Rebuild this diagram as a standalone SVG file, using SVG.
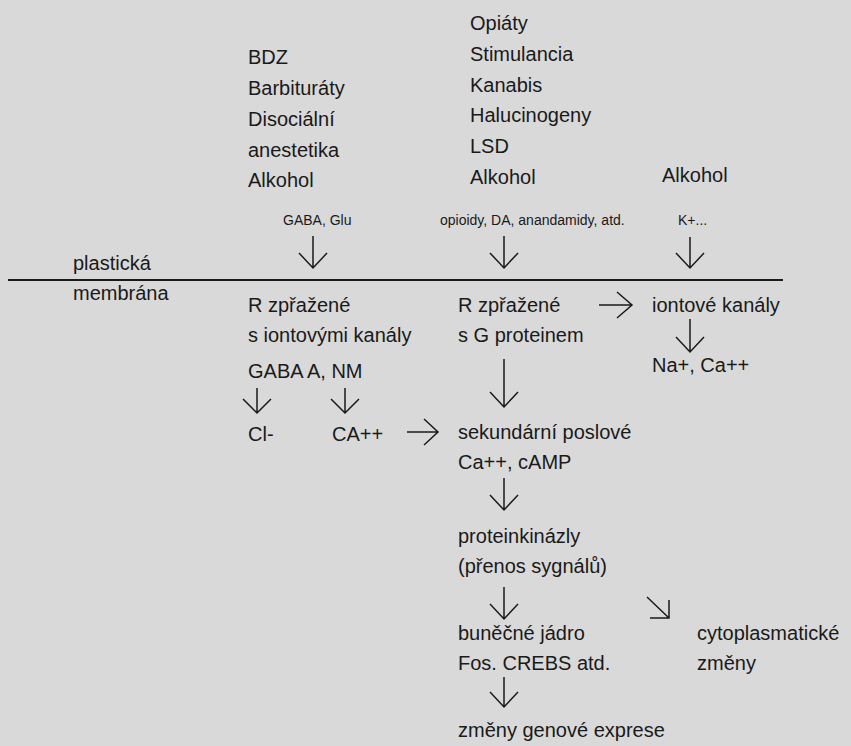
<svg xmlns="http://www.w3.org/2000/svg" width="851" height="746" viewBox="0 0 851 746">
<style>
text{font-family:"Liberation Sans",Arial,sans-serif;fill:#1a1a1a;font-size:20px}
text.s{font-size:14px}
.a{fill:none;stroke:#1a1a1a;stroke-width:1.5}
</style>
<rect width="851" height="746" fill="#d9d9d9"/>
<g id="membrane">
<line x1="8" y1="280" x2="783" y2="280" stroke="#1a1a1a" stroke-width="2"/>
<text x="73" y="270">plastická</text>
<text x="73" y="300">membrána</text>
</g>
<g id="drugs-left">
<text x="248" y="64">BDZ</text>
<text x="248" y="95">Barbituráty</text>
<text x="248" y="126">Disociální</text>
<text x="248" y="157">anestetika</text>
<text x="248" y="187">Alkohol</text>
</g>
<g id="drugs-mid">
<text x="470" y="30">Opiáty</text>
<text x="470" y="61">Stimulancia</text>
<text x="470" y="92">Kanabis</text>
<text x="470" y="122">Halucinogeny</text>
<text x="470" y="153">LSD</text>
<text x="470" y="184">Alkohol</text>
</g>
<g id="drugs-right">
<text x="662" y="182">Alkohol</text>
</g>
<g id="lbl-gaba"><text class="s" x="283" y="225">GABA, Glu</text></g>
<g id="lbl-opioid"><text class="s" x="440" y="225">opioidy, DA, anandamidy, atd.</text></g>
<g id="lbl-k"><text class="s" x="678" y="225">K+...</text></g>
<g id="r-ion">
<text x="248" y="312">R zpřažené</text>
<text x="248" y="342">s iontovými kanály</text>
<text x="248" y="378">GABA A, NM</text>
</g>
<g id="r-g">
<text x="458" y="312">R zpřažené</text>
<text x="458" y="342">s G proteinem</text>
</g>
<g id="ion-channels">
<text x="652" y="312">iontové kanály</text>
</g>
<g id="na-ca"><text x="652" y="372">Na+, Ca++</text></g>
<g id="cl"><text x="248" y="441">Cl-</text></g>
<g id="ca"><text x="332" y="441">CA++</text></g>
<g id="second-messengers">
<text x="458" y="439">sekundární poslové</text>
<text x="458" y="469">Ca++, cAMP</text>
</g>
<g id="proteinkinases">
<text x="458" y="543">proteinkinázly</text>
<text x="458" y="573">(přenos sygnálů)</text>
</g>
<g id="nucleus">
<text x="458" y="640">buněčné jádro</text>
<text x="458" y="670">Fos. CREBS atd.</text>
</g>
<g id="cytoplasm">
<text x="697" y="640">cytoplasmatické</text>
<text x="697" y="670">změny</text>
</g>
<g id="gene-expression"><text x="458" y="737">změny genové exprese</text></g>
<g id="connectors" class="a">
<path d="M313 236V268M299 253L313 268L327 253"/>
<path d="M504 236V268M490 253L504 268L518 253"/>
<path d="M690 237V268M676 253L690 268L704 253"/>
<path d="M599 305H632M617 292L632 305L617 318"/>
<path d="M690 319V352M676 337L690 352L704 337"/>
<path d="M504 359V407M490 392L504 407L518 392"/>
<path d="M257 388V413M243 399L257 413L271 399"/>
<path d="M345 388V413M331 399L345 413L359 399"/>
<path d="M407 432H438M424 419L438 432L424 445"/>
<path d="M504 478V510M490 495L504 510L518 495"/>
<path d="M504 587V619M490 604L504 619L518 604"/>
<path d="M647 597L669 618M650 618H669V600"/>
<path d="M504 677V707M490 692L504 707L518 692"/>
</g>
</svg>
